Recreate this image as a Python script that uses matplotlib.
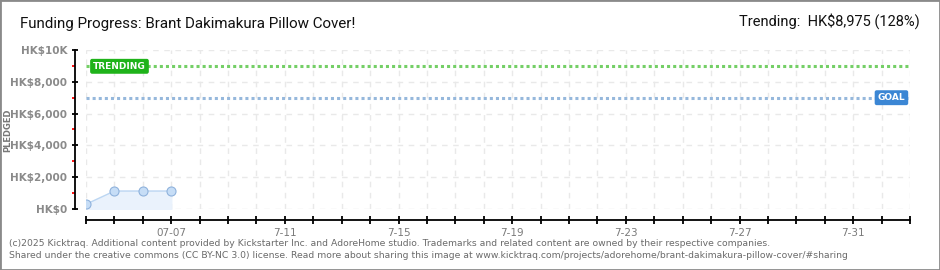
import numpy as np
import pandas as pd
import matplotlib
matplotlib.use("Agg")
import matplotlib.pyplot as plt
from matplotlib.patches import Rectangle

# data
dates = pd.to_datetime(["2025-07-04", "2025-07-05", "2025-07-06", "2025-07-07"])
pledged = [300, 1130, 1130, 1130]
trending = 8975
goal = 7000
x_start, x_end = pd.Timestamp("2025-07-04"), pd.Timestamp("2025-08-02")
label_dates = pd.to_datetime(["2025-07-07", "2025-07-11", "2025-07-15", "2025-07-19",
                              "2025-07-23", "2025-07-27", "2025-07-31"])
label_text = ["07-07", "7-11", "7-15", "7-19", "7-23", "7-27", "7-31"]
y_major = [0, 2000, 4000, 6000, 8000, 10000]
y_labels = ["HK$0", "HK$2,000", "HK$4,000", "HK$6,000", "HK$8,000", "HK$10K"]
y_minor = [1000, 3000, 5000, 7000, 9000]

title = "Funding Progress: Brant Dakimakura Pillow Cover!"
trend_text = "Trending:  HK$8,975 (128%)"
footer = ("(c)2025 Kicktraq. Additional content provided by Kickstarter Inc. and AdoreHome studio. "
          "Trademarks and related content are owned by their respective companies.\n"
          "Shared under the creative commons (CC BY-NC 3.0) license. Read more about sharing this image at "
          "www.kicktraq.com/projects/adorehome/brant-dakimakura-pillow-cover/#sharing")

W, H = 940, 270
fig = plt.figure(figsize=(W / 100, H / 100), dpi=100)
fig.patch.set_facecolor("white")
fig.patches.append(Rectangle((0, 0), 1, 1, transform=fig.transFigure, fill=False,
                             edgecolor="#8a8a8a", linewidth=2))

ax = fig.add_axes([86 / W, (H - 209) / H, (910 - 86) / W, (209 - 50) / H])
ax.set_facecolor("none")

# grid
day_ticks = pd.date_range(x_start, x_end, freq="D")
for d in day_ticks:
    ax.axvline(d, color="#e9e9e9", lw=1, ls=(0, (4, 4)), zorder=0)
for v in y_major:
    ax.axhline(v, color="#e9e9e9", lw=1, ls=(0, (4, 4)), zorder=0)

# pledged series
ax.fill_between(dates, pledged, 0, color="#eaf2fc", zorder=1)
ax.plot(dates, pledged, color="#bcd6f2", lw=1, zorder=2)
ax.plot(dates, pledged, "o", ms=6.5, mfc="#c6ddf6", mec="#8fb2dc", mew=0.8, zorder=3)

# trending / goal lines
ax.axhline(trending, color="#74cf66", lw=2.2, ls=(0, (1, 1)), zorder=2)
ax.axhline(goal, color="#96b8dc", lw=2.2, ls=(0, (1, 1)), zorder=2)
ax.text(pd.Timestamp("2025-07-04 06:00"), trending, "TRENDING", color="white", fontsize=6.5,
        fontweight="bold", va="center", ha="left", zorder=4,
        bbox=dict(boxstyle="round,pad=0.25,rounding_size=0.15", fc="#1fb31a", ec="#1fb31a"))
ax.text(pd.Timestamp("2025-08-01 20:00"), goal, "GOAL", color="white", fontsize=6.5,
        fontweight="bold", va="center", ha="right", zorder=4,
        bbox=dict(boxstyle="round,pad=0.25,rounding_size=0.15", fc="#3b86d4", ec="#3b86d4"))

ax.set_xlim(x_start, x_end)
ax.set_ylim(0, 10000)

for s in ["top", "right"]:
    ax.spines[s].set_visible(False)
ax.spines["left"].set_position(("outward", 8))
ax.spines["bottom"].set_position(("outward", 8))
ax.spines["left"].set_linewidth(1.3)
ax.spines["bottom"].set_linewidth(1.3)

ax.set_yticks(y_major, y_labels)
ax.set_yticks(y_minor, minor=True)
ax.tick_params(axis="y", which="major", direction="inout", length=5, width=1.3,
               colors="black", labelcolor="#8a8a8a", labelsize=7.5, pad=3)
ax.tick_params(axis="y", which="minor", direction="out", length=2.5, width=1.3, colors="red")
for lbl in ax.get_yticklabels():
    lbl.set_fontweight("bold")

ax.set_xticks(label_dates, label_text)
ax.set_xticks(day_ticks, minor=True)
ax.tick_params(axis="x", which="both", direction="inout", length=6, width=1.3,
               colors="black", labelcolor="#7a7a7a", labelsize=7.5, pad=3)

fig.text(8 / W, 1 - 130 / H, "PLEDGED", rotation=90, color="#777777", fontsize=6,
         fontweight="bold", ha="center", va="center")

fig.text(20 / W, 1 - 24 / H, title, fontsize=10.9, color="#111111", ha="left", va="center",
         family="Roboto")
fig.text(920 / W, 1 - 21 / H, trend_text, fontsize=10.5, color="#111111", ha="right",
         va="center", family="Roboto")

fig.text(9 / W, 1 - 249.5 / H, footer, fontsize=6.65, color="#6a6a6a", ha="left", va="center",
         linespacing=1.45)

fig.savefig("out.png", dpi=100)
